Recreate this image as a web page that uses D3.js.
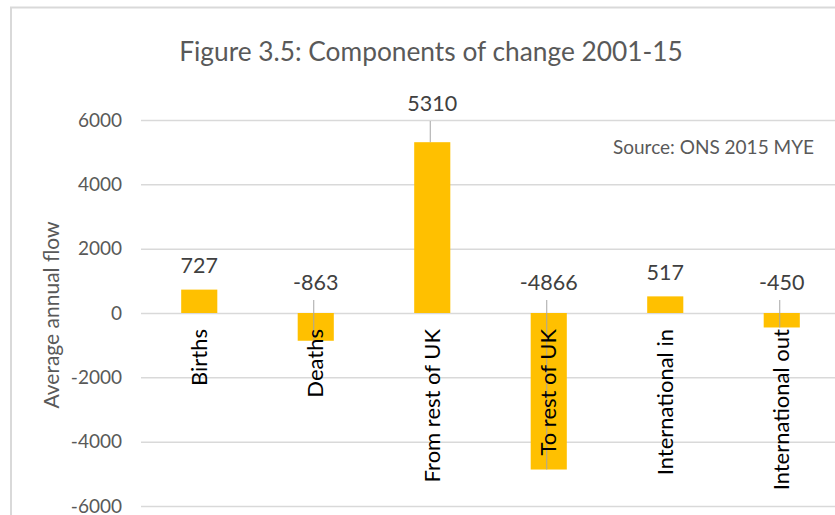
<!DOCTYPE html>
<html>
<head>
<meta charset="utf-8">
<script src="https://cdn.jsdelivr.net/npm/d3@7"></script>
<style>
  html, body { margin: 0; padding: 0; background: #fff; }
  svg { display: block; }
  text { font-family: Lato, "Open Sans", sans-serif; }
</style>
</head>
<body>
<svg id="chart" width="835" height="515"></svg>
<script>
// Components of population change, average annual flow 2001-15
const categories = ["Births", "Deaths", "From rest of UK", "To rest of UK", "International in", "International out"];
const flows = [727, -863, 5310, -4866, 517, -450];
const yTicks = [-6000, -4000, -2000, 0, 2000, 4000, 6000];

const svg = d3.select("#chart");
const fmt = v => String(v);   // plain hyphen for negatives

// chart frame (runs off the right and bottom edges)
svg.append("rect")
  .attr("x", 11).attr("y", 7.5)
  .attr("width", 840).attr("height", 520)
  .attr("fill", "#fff")
  .attr("stroke", "#d9d9d9").attr("stroke-width", 2);

const plot = { left: 141, right: 840, top: 120, bottom: 506 };

const x = d3.scaleBand()
  .domain(categories)
  .range([plot.left, plot.right])
  .paddingInner(0.69)
  .paddingOuter(0.345);

const y = d3.scaleLinear()
  .domain([-6000, 6000])
  .range([plot.bottom, plot.top]);

// gridlines + tick labels
const yAxis = d3.axisLeft(y)
  .tickValues(yTicks)
  .tickSize(-(plot.right - plot.left))
  .tickPadding(19)
  .tickFormat(fmt);

const gAxis = svg.append("g")
  .attr("transform", `translate(${plot.left},0)`)
  .call(yAxis);
gAxis.select(".domain").remove();
gAxis.selectAll(".tick line")
  .attr("stroke", "#d9d9d9").attr("stroke-width", 1.5);
gAxis.selectAll(".tick text")
  .attr("fill", "#595959")
  .style("font-size", "19px")
  .style("font-family", "Lato, 'Open Sans', sans-serif");

// bars
const data = categories.map((c, i) => ({ cat: c, v: flows[i] }));
svg.append("g").selectAll("rect")
  .data(data)
  .join("rect")
  .attr("x", d => x(d.cat))
  .attr("width", x.bandwidth())
  .attr("y", d => y(Math.max(0, d.v)))
  .attr("height", d => Math.abs(y(d.v) - y(0)))
  .attr("fill", "#ffc000");

// value labels: above bar tops (lifted above the top gridline for tall bars),
// or just above the zero line for negative bars
const tall = d => d.v >= 0 && y(d.v) - 24 < y(6000) + 20;
const labelY = d => d.v < 0 ? y(0) - 31 : (tall(d) ? y(6000) - 17 : y(d.v) - 24);

// leader lines from labels that sit away from their bar end
svg.append("g").selectAll("line")
  .data(data.filter(d => d.v < 0 || tall(d)))
  .join("line")
  .attr("x1", d => x(d.cat) + x.bandwidth() / 2 - 2)
  .attr("x2", d => x(d.cat) + x.bandwidth() / 2 - 2)
  .attr("y1", d => labelY(d) + 18)
  .attr("y2", d => y(d.v))
  .attr("stroke", "#a6a6a6").attr("stroke-width", 1);

svg.append("g").selectAll("text")
  .data(data)
  .join("text")
  .attr("x", d => x(d.cat) + x.bandwidth() / 2)
  .attr("y", labelY)
  .attr("dy", "0.35em")
  .attr("text-anchor", "middle")
  .attr("fill", "#404040")
  .style("font-size", "21.5px")
  .text(d => fmt(d.v));

// category labels, rotated, hanging below the zero line
svg.append("g").selectAll("text")
  .data(categories)
  .join("text")
  .attr("transform", c => `translate(${x(c) + x.bandwidth() / 2},${y(0) + 16}) rotate(-90)`)
  .attr("dy", "0.35em")
  .attr("text-anchor", "end")
  .attr("fill", "#000")
  .style("font-size", "22px")
  .text(c => c);

// axis title
svg.append("text")
  .attr("transform", `translate(52,${(plot.top + plot.bottom) / 2 + 2}) rotate(-90)`)
  .attr("dy", "0.35em")
  .attr("text-anchor", "middle")
  .attr("fill", "#595959")
  .style("font-size", "21px")
  .text("Average annual flow");

// title
svg.append("text")
  .attr("x", 431).attr("y", 52)
  .attr("dy", "0.35em")
  .attr("text-anchor", "middle")
  .attr("fill", "#595959")
  .style("font-size", "26.3px")
  .text("Figure 3.5: Components of change 2001-15");

// source note
svg.append("text")
  .attr("x", 814).attr("y", 147)
  .attr("dy", "0.35em")
  .attr("text-anchor", "end")
  .attr("fill", "#595959")
  .style("font-size", "19px")
  .text("Source: ONS 2015 MYE");
</script>
</body>
</html>
